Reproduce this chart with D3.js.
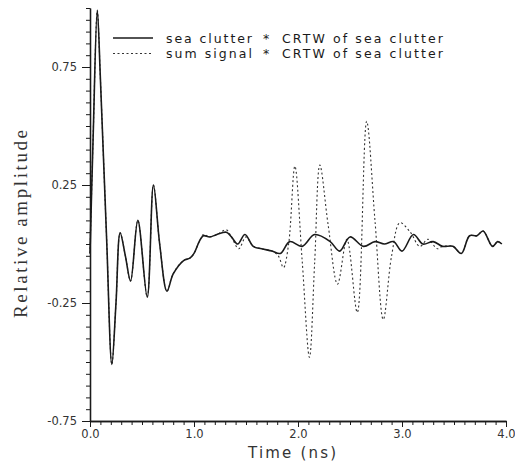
<!DOCTYPE html>
<html><head><meta charset="utf-8">
<script src="https://cdn.jsdelivr.net/npm/d3@7"></script>
<style>
html,body{margin:0;padding:0;background:#fff;}
svg{display:block;font-family:"DejaVu Sans",sans-serif;}
</style></head>
<body>
<svg id="c" width="515" height="466"></svg>
<script>
// ---- data ----
const clutterT = [0.00,0.03,0.07,0.10,0.16,0.21,0.25,0.29,0.34,0.39,0.46,0.55,0.61,0.67,0.74,0.80,0.90,0.96,1.00,1.05,1.09,1.15,1.22,1.31,1.36,1.42,1.49,1.57,1.65,1.75,1.83,1.92,2.04,2.16,2.31,2.40,2.50,2.63,2.74,2.83,2.92,3.00,3.11,3.20,3.30,3.39,3.49,3.57,3.65,3.72,3.78,3.87,3.92,3.96];
const clutterV = [-0.04,0.45,0.99,0.70,0.02,-0.51,-0.25,0.047,-0.05,-0.157,0.10,-0.225,0.25,0.0,-0.20,-0.127,-0.07,-0.06,-0.04,0.01,0.035,0.03,0.04,0.05,0.03,0.0,0.04,-0.01,-0.02,-0.03,-0.04,0.01,-0.01,0.04,0.01,-0.03,0.03,-0.01,0.01,0.0,0.01,-0.03,0.04,0.0,0.01,-0.01,-0.01,-0.04,0.035,0.035,0.055,-0.01,0.01,0.0];
const sumT = [0.00,0.03,0.07,0.10,0.16,0.21,0.25,0.29,0.34,0.39,0.46,0.55,0.61,0.67,0.74,0.80,0.90,0.96,1.00,1.05,1.09,1.15,1.22,1.31,1.36,1.43,1.50,1.57,1.65,1.75,1.81,1.86,1.91,1.97,2.04,2.11,2.16,2.21,2.29,2.38,2.47,2.57,2.66,2.74,2.82,2.90,2.98,3.08,3.17,3.25,3.34,3.39,3.49,3.57,3.65,3.72,3.78,3.87,3.92,3.96];
const sumV = [-0.04,0.45,0.99,0.70,0.02,-0.51,-0.25,0.047,-0.05,-0.157,0.10,-0.225,0.25,0.0,-0.20,-0.125,-0.07,-0.06,-0.04,0.01,0.04,0.03,0.04,0.06,0.03,-0.02,0.03,-0.01,-0.02,-0.03,-0.05,-0.10,0.0,0.33,-0.07,-0.48,-0.08,0.335,0.08,-0.17,0.02,-0.29,0.52,0.10,-0.32,-0.05,0.09,0.05,-0.01,0.02,-0.02,-0.01,-0.01,-0.04,0.035,0.035,0.055,-0.01,0.01,0.0];
const xMajor = [0,1,2,3,4];
const xMajorLabels = ["0.0","1.0","2.0","3.0","4.0"];
const yMajor = [-0.75,-0.25,0.25,0.75];
const yMajorLabels = ["-0.75","-0.25","0.25","0.75"];
const legendNames = ["sea clutter","sum signal"];
const legendSuffix = "CRTW of sea clutter";

// ---- layout ----
const svg = d3.select("#c");
const x = d3.scaleLinear().domain([0,4]).range([90,506]);
const y = d3.scaleLinear().domain([-0.75,1.0]).range([421,8]);
const ink = "#1a1a1a";

// ticks
const xAx = svg.append("g").attr("transform","translate(0,421)");
xAx.append("g").call(d3.axisBottom(x).tickValues(x.ticks(40)).tickSize(4).tickFormat("").tickSizeOuter(0));
xAx.append("g").call(d3.axisBottom(x).tickValues(xMajor).tickSize(6).tickFormat((d,i)=>xMajorLabels[i]).tickSizeOuter(0).tickPadding(3));
const yAx = svg.append("g").attr("transform","translate(90,0)");
yAx.append("g").call(d3.axisLeft(y).tickValues(y.ticks(35)).tickSize(4).tickFormat("").tickSizeOuter(0));
yAx.append("g").call(d3.axisLeft(y).tickValues(yMajor).tickSize(8).tickFormat((d,i)=>yMajorLabels[i]).tickSizeOuter(0).tickPadding(5));
svg.selectAll(".domain").attr("stroke",ink).attr("stroke-width",1.3);
svg.selectAll(".tick line").attr("stroke",ink).attr("stroke-width",1);
svg.selectAll(".tick text").attr("font-size",11.5).attr("fill","#333").attr("font-family","'DejaVu Sans',sans-serif");

// lines
const line = d3.line().x(d=>x(d[0])).y(d=>y(d[1])).curve(d3.curveCatmullRom.alpha(0.5));
svg.append("path").datum(sumT.map((t,i)=>[t,sumV[i]]))
  .attr("d",line).attr("fill","none").attr("stroke","#333").attr("stroke-width",1.1).attr("stroke-dasharray","2,2.5");
svg.append("path").datum(clutterT.map((t,i)=>[t,clutterV[i]]))
  .attr("d",line).attr("fill","none").attr("stroke",ink).attr("stroke-width",1.6);

// legend
const lg = svg.append("g");
legendNames.forEach((n,i)=>{
  const yy = 38 + i*15.5;
  lg.append("line").attr("x1",113).attr("x2",153).attr("y1",yy).attr("y2",yy)
    .attr("stroke",i===0?ink:"#333").attr("stroke-width",i===0?1.6:1.1)
    .attr("stroke-dasharray",i===0?null:"2,2.5");
  lg.append("text").attr("x",166).attr("y",yy+4.5).attr("font-size",12.5).attr("fill",ink)
    .attr("textLength",86).attr("lengthAdjust","spacing").text(n);
  lg.append("text").attr("x",266).attr("y",yy+4.5).attr("font-size",12.5).attr("fill",ink)
    .attr("text-anchor","middle").text("*");
  lg.append("text").attr("x",282).attr("y",yy+4.5).attr("font-size",12.5).attr("fill",ink)
    .attr("textLength",161).attr("lengthAdjust","spacing").text(legendSuffix);
});

// axis titles
svg.append("text").attr("x",248).attr("y",458).attr("font-size",15).attr("fill","#333")
  .attr("textLength",88).attr("lengthAdjust","spacing").text("Time (ns)");
svg.append("text").attr("transform","translate(27,318) rotate(-90)")
  .attr("font-family","'Liberation Serif','DejaVu Serif',serif").attr("font-size",19).attr("fill","#333")
  .attr("textLength",188).attr("lengthAdjust","spacing").text("Relative amplitude");
</script>
</body></html>
